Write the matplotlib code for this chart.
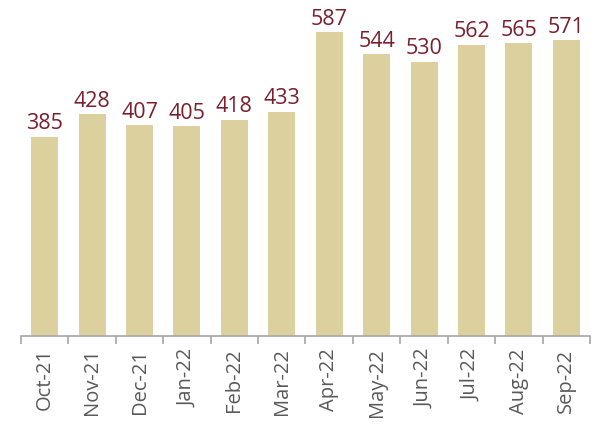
import matplotlib
matplotlib.use("Agg")
import matplotlib.pyplot as plt
import numpy as np

months = ["Oct-21", "Nov-21", "Dec-21", "Jan-22", "Feb-22", "Mar-22",
          "Apr-22", "May-22", "Jun-22", "Jul-22", "Aug-22", "Sep-22"]
values = [385, 428, 407, 405, 418, 433, 587, 544, 530, 562, 565, 571]

plt.rcParams['font.family'] = ['Open Sans', 'DejaVu Sans']

fig = plt.figure(figsize=(5.96, 4.26), dpi=100)
ax = fig.add_axes([21/596, 90/426, 569/596, 336/426])

x = np.arange(len(months))
ax.bar(x, values, width=0.57, color="#DDD09F", zorder=2)
for xi, v in zip(x, values):
    ax.text(xi, v + 5, str(v), ha="center", va="bottom", fontsize=15.5,
            color="#7B1E2E")

ax.set_xlim(-0.5, len(months) - 0.5)
ax.set_ylim(0, 649)
ax.set_yticks([])
for s in ["top", "right", "left"]:
    ax.spines[s].set_visible(False)
ax.spines["bottom"].set_color("#A6A6A6")
ax.spines["bottom"].set_linewidth(1.2)

ax.set_xticks(np.arange(-0.5, len(months), 1.0), minor=False)
ax.set_xticklabels([])
ax.tick_params(axis="x", which="major", length=6, color="#A6A6A6", width=1.2)
ax.set_xticks(x, minor=True)
ax.set_xticklabels(months, minor=True, rotation=90, fontsize=14.5, color="#595959")
ax.tick_params(axis="x", which="minor", length=0, pad=9)

fig.savefig("out.png", dpi=100, facecolor="white")
